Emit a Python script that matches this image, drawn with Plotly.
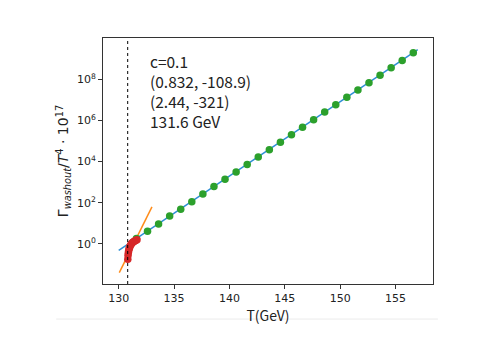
import numpy as np
import plotly.graph_objects as go

# washout rate vs temperature (log10 of the y value)
t_green = [131.6, 132.6, 133.6, 134.6, 135.6, 136.6, 137.6, 138.6, 139.6, 140.6,
           141.6, 142.6, 143.6, 144.6, 145.6, 146.6, 147.6, 148.6, 149.6, 150.6,
           151.6, 152.6, 153.6, 154.6, 155.6, 156.6]
log_green = [0.26, 0.62, 0.97, 1.35, 1.69, 2.05, 2.43, 2.79, 3.14, 3.50,
             3.86, 4.22, 4.58, 4.94, 5.31, 5.67, 6.04, 6.41, 6.77, 7.13,
             7.48, 7.84, 8.20, 8.56, 8.92, 9.29]

t_red = [130.82, 130.84, 130.87, 130.90, 130.94, 130.98, 131.03, 131.09,
         131.15, 131.22, 131.30, 131.38, 131.47, 131.56, 131.65]
log_red = [-0.75, -0.55, -0.42, -0.32, -0.24, -0.17, -0.10, -0.04,
           0.01, 0.05, 0.09, 0.12, 0.15, 0.18, 0.20]

# fit lines
t_fit_high = [130.0, 157.0]
log_fit_high = [-0.32, 9.44]
t_fit_low = [130.05, 133.0]
log_fit_low = [-1.40, 1.80]

t_crit = 130.81

x_ticks = [130, 135, 140, 145, 150, 155]
y_tick_exp = [0, 2, 4, 6, 8]


def pw(v):
    return [10 ** x for x in v]


fig = go.Figure()
fig.add_trace(go.Scatter(x=t_fit_high, y=pw(log_fit_high), mode='lines',
                         line=dict(color='#2f8fd6', width=1.5)))
fig.add_trace(go.Scatter(x=t_fit_low, y=pw(log_fit_low), mode='lines',
                         line=dict(color='#ff8c1a', width=1.5)))
fig.add_trace(go.Scatter(x=t_green, y=pw(log_green), mode='markers',
                         marker=dict(color='#2ca02c', size=7.5)))
fig.add_trace(go.Scatter(x=t_red, y=pw(log_red), mode='markers',
                         marker=dict(color='#d62728', size=7.5)))

fig.add_vline(x=t_crit, line=dict(color='black', width=1, dash='dot'))

# faint figure edge line below the axes
fig.add_shape(type='line', xref='paper', yref='paper', x0=-0.142, x1=1.015,
              y0=-0.1425, y1=-0.1425, line=dict(color='#ececec', width=1))

fig.add_annotation(
    text='c=0.1<br>(0.832, -108.9)<br>(2.44, -321)<br>131.6 GeV',
    xref='paper', yref='paper', x=0.137, y=0.96, xanchor='left', yanchor='top',
    align='left', showarrow=False,
    font=dict(family='Noto Sans CJK JP', size=15.5, color='#222'))

axis_common = dict(showline=True, linecolor='#333', linewidth=1, mirror=True,
                   ticks='outside', ticklen=4, tickcolor='#333', showgrid=False,
                   zeroline=False, automargin=False,
                   tickfont=dict(family='DejaVu Sans', size=11, color='#222'))

fig.update_xaxes(range=[128.58, 158.38], tickvals=x_ticks,
                 title=dict(text='T(GeV)', standoff=2,
                            font=dict(family='Noto Sans CJK JP', size=14, color='#222')),
                 **axis_common)
fig.update_yaxes(type='log', range=[-1.95, 10.01],
                 tickvals=[10 ** e for e in y_tick_exp],
                 ticktext=[f'10<sup>{e}</sup>' for e in y_tick_exp],
                 title=dict(text='Γ<sub><i>washout</i></sub>/<i>T</i><sup>4</sup> · 10<sup>17</sup>',
                            standoff=4,
                            font=dict(family='DejaVu Sans', size=14, color='#222')),
                 **axis_common)

fig.update_layout(width=490, height=347, showlegend=False,
                  margin=dict(l=95, r=65, t=30, b=71),
                  plot_bgcolor='white', paper_bgcolor='white')

fig.write_html("out.html")
